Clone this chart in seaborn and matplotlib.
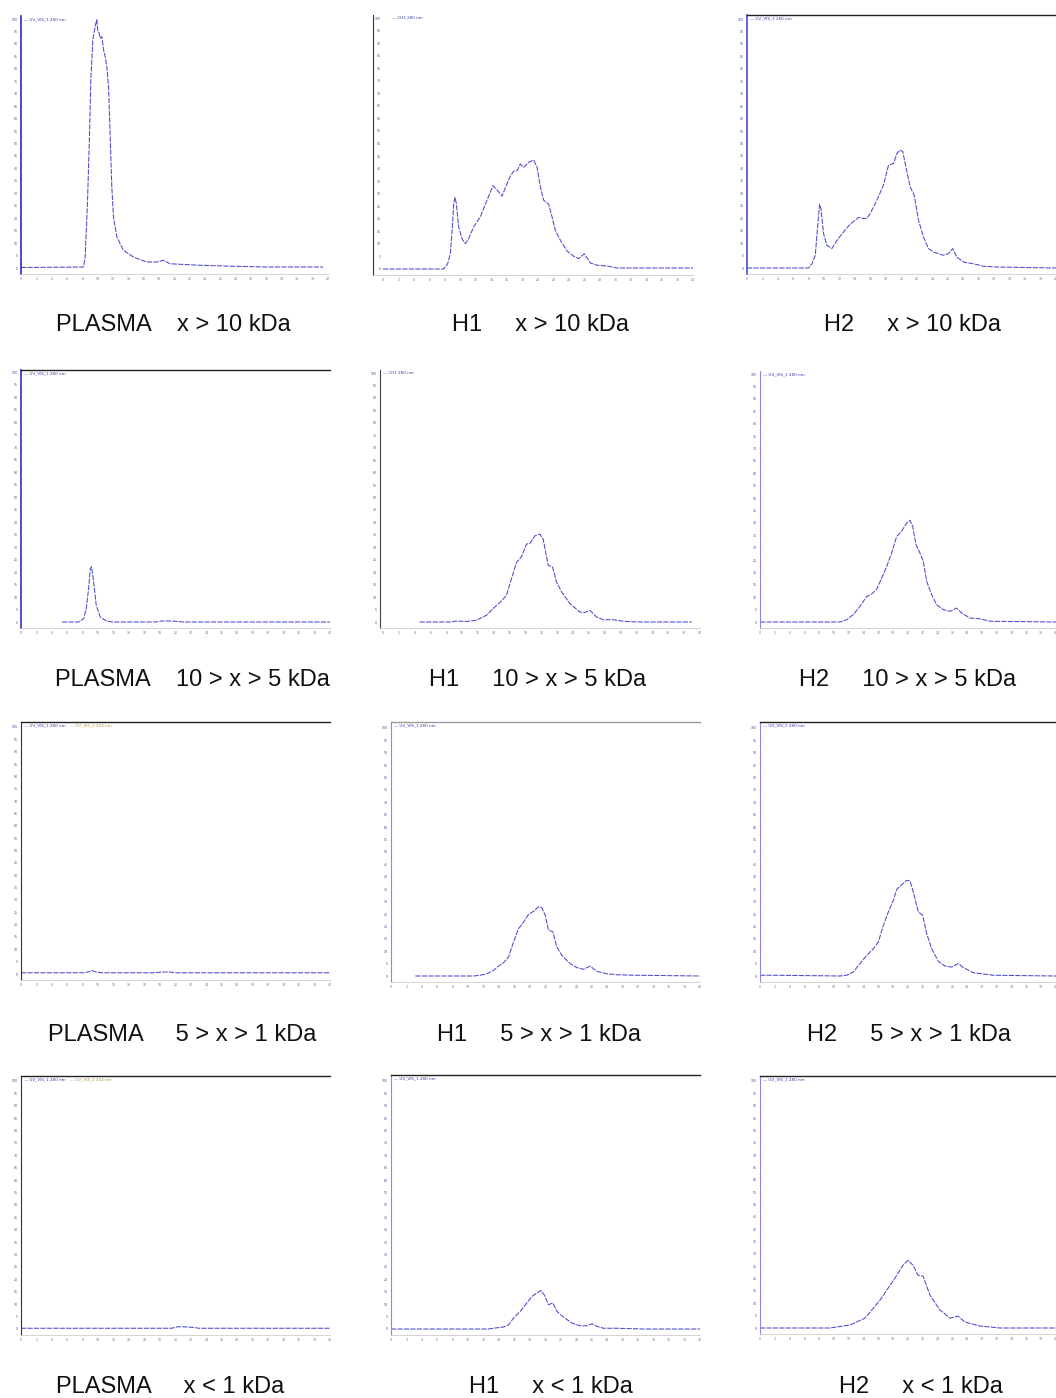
import matplotlib
matplotlib.use("Agg")
import matplotlib.pyplot as plt
import seaborn as sns

# ---- chromatogram traces (retention time, min / detector response, % of full scale) ----
plasma_gt10_t = [0, 8.15, 8.36, 8.67, 8.93, 9.10, 9.36, 9.66, 9.88, 10.01, 10.18, 10.31, 10.53,
                 10.75, 10.96, 11.18, 11.40, 11.61, 11.83, 12.05, 12.48, 13.35, 14.65, 16.38,
                 17.68, 18.55, 19.41, 23.31, 27.65, 31.98, 39.35]
plasma_gt10_y = [0.2, 0.4, 4.4, 27, 54, 75.6, 91.7, 97, 99.7, 95, 94.4, 92.3, 93,
                 87.7, 85, 81, 72.9, 54, 32.6, 20.5, 12.5, 7.1, 4.4, 2.4,
                 2.4, 3.1, 1.7, 1.1, 0.7, 0.4, 0.4]

h1_gt10_t = [0, 7.83, 8.34, 8.69, 8.95, 9.12, 9.29, 9.46, 9.76, 10.19, 10.62, 11.05, 11.70,
             12.56, 13.42, 14.19, 14.92, 15.35, 15.78, 16.43, 16.86, 17.29, 17.72, 18.15,
             18.80, 19.44, 19.87, 20.30, 20.73, 21.38, 21.81, 22.24, 22.88, 23.74, 24.60,
             25.25, 25.98, 26.75, 27.61, 28.90, 30.19, 32.77, 40]
h1_gt10_y = [0, 0, 2.1, 6.1, 16.8, 26.1, 28.5, 26.1, 16.8, 12.1, 10.1, 12.1, 16.8,
             20.8, 27.4, 33.2, 30.8, 29.0, 32.4, 37.0, 39.0, 39.1, 41.8, 40.5,
             42.5, 43.4, 40.7, 32.8, 27.4, 25.8, 20.8, 15.4, 11.5, 7.2, 5.1,
             4.1, 6.1, 2.4, 1.5, 1.2, 0.4, 0.4, 0.4]

h2_gt10_t = [0, 7.97, 8.41, 8.84, 9.14, 9.40, 9.57, 9.91, 10.34, 10.99, 11.64, 12.50, 13.36,
             14.44, 15.09, 15.52, 15.95, 16.81, 17.67, 18.32, 18.97, 19.40, 19.83, 20.17,
             20.47, 21.12, 21.64, 22.20, 22.84, 23.49, 24.14, 25.43, 26.08, 26.64, 27.16,
             28.02, 29.31, 30.60, 32.33, 40]
h2_gt10_y = [0, 0, 1.7, 5.1, 16.5, 25.6, 23.9, 13.8, 9.1, 7.8, 11.1, 14.5, 17.6,
             20.3, 19.9, 19.9, 21.9, 27.2, 33.3, 41.3, 42.0, 46.0, 47.4, 46.7,
             42.0, 32.6, 29.3, 19.2, 12.5, 7.8, 6.4, 5.1, 5.8, 7.8, 4.4,
             2.4, 1.7, 0.7, 0.4, 0]

plasma_10_5_t = [5.30, 7.46, 8.10, 8.45, 8.75, 8.97, 9.14, 9.40, 9.74, 10.26, 11.12, 11.98,
                 17.5, 18.2, 19.5, 21.0, 26.0, 40]
plasma_10_5_y = [0, 0, 1.3, 5.3, 13.4, 21.4, 22.1, 16.0, 6.7, 2.0, 0.3, 0,
                 0, 0.4, 0.4, 0, 0, 0]

h1_10_5_t = [4.63, 8.63, 9.26, 10.53, 11.79, 13.05, 13.89, 14.74, 15.58, 16.21, 16.84, 17.47,
             18.11, 18.53, 19.16, 19.79, 20.21, 20.84, 21.39, 21.89, 22.53, 23.58, 24.84,
             25.47, 26.11, 26.95, 27.79, 29.05, 30.32, 32.0, 38.95]
h1_10_5_y = [0, 0, 0.4, 0.2, 0.7, 2.7, 5.4, 7.8, 10.7, 17.4, 23.9, 26.2,
             31.3, 31.5, 34.6, 35.3, 33.3, 22.8, 22.1, 16.1, 12.1, 7.4, 4.0,
             3.8, 4.7, 2.0, 0.9, 0.9, 0.3, 0, 0]

h2_10_5_t = [0, 10.81, 11.71, 12.61, 13.51, 14.41, 15.09, 15.77, 16.44, 17.12, 17.79, 18.47,
             19.14, 19.82, 20.27, 20.63, 21.08, 21.62, 22.07, 22.52, 23.20, 23.87, 24.77,
             25.68, 26.58, 27.25, 28.38, 29.73, 31.08, 40]
h2_10_5_y = [0, 0, 0.9, 3.0, 6.3, 10.3, 11.3, 13.2, 17.7, 22.4, 27.8, 34.5,
             36.6, 39.9, 41.0, 38.6, 31.2, 27.8, 24.5, 16.4, 11.0, 7.0, 5.0,
             4.3, 5.6, 3.6, 1.6, 1.3, 0.3, 0]

plasma_5_1_t = [0, 8.0, 8.8, 9.2, 9.6, 10.4, 17.0, 18.5, 19.3, 20.0, 26.0, 40]
plasma_5_1_y = [0.5, 0.5, 0.9, 1.4, 0.9, 0.5, 0.5, 0.8, 0.8, 0.5, 0.5, 0.5]

h1_5_1_t = [3.15, 10.69, 11.55, 12.41, 13.28, 13.92, 14.57, 15.22, 15.86, 16.51, 17.16, 17.80,
            18.45, 19.09, 19.53, 19.96, 20.39, 20.95, 21.47, 22.11, 23.19, 24.05, 24.91,
            25.78, 26.64, 27.93, 29.22, 31.81, 40]
h1_5_1_y = [0, 0, 0.3, 0.9, 2.3, 4.0, 5.4, 7.7, 13.7, 19.1, 21.8, 24.8,
            26.1, 27.9, 27.5, 24.5, 18.5, 17.8, 11.7, 8.4, 5.0, 3.4, 2.7,
            4.0, 1.9, 0.9, 0.5, 0.3, 0]

h2_5_1_t = [0, 2.2, 10.81, 11.71, 12.61, 13.51, 14.41, 15.32, 15.99, 16.67, 17.34, 18.02,
            18.47, 19.14, 19.82, 20.27, 20.72, 21.40, 21.98, 22.52, 23.20, 24.10, 25.00,
            25.90, 26.80, 27.48, 28.83, 29.95, 31.53, 40]
h2_5_1_y = [0.3, 0.3, 0, 0.3, 1.6, 5.0, 8.3, 11.0, 13.7, 20.4, 25.8, 30.5,
            34.9, 36.8, 38.6, 38.3, 33.9, 25.8, 24.5, 17.1, 11.0, 5.9, 4.0,
            3.6, 5.0, 3.4, 1.3, 0.9, 0.3, 0]

plasma_lt1_t = [0, 19.5, 20.3, 21.0, 22.5, 23.0, 40]
plasma_lt1_y = [0.3, 0.3, 0.9, 0.9, 0.6, 0.3, 0.3]

h1_lt1_t = [0, 12.63, 13.49, 14.57, 15.22, 15.86, 16.72, 17.59, 18.23, 18.88, 19.40, 19.83,
            20.39, 20.95, 21.47, 22.33, 23.41, 24.48, 25.34, 25.99, 26.64, 27.50, 29.22,
            32.67, 40]
h1_lt1_y = [0, 0, 0.4, 0.8, 1.7, 4.4, 7.1, 10.5, 13.1, 14.5, 15.5, 13.8,
            9.8, 10.5, 7.1, 4.8, 2.4, 1.3, 1.3, 2.1, 1.1, 0.3, 0.3,
            0, 0]

h2_lt1_t = [0, 9.46, 12.16, 14.19, 16.22, 18.24, 19.32, 20.0, 20.68, 21.35, 22.03, 22.97,
            24.32, 25.68, 26.76, 27.70, 29.73, 32.43, 40]
h2_lt1_y = [0, 0, 1.2, 4.0, 11.3, 20.2, 25.4, 27.4, 25.4, 21.4, 21.0, 13.3,
            7.3, 4.0, 4.8, 2.4, 0.8, 0, 0]

captions = [
    "PLASMA    x > 10 kDa", "H1     x > 10 kDa", "H2     x > 10 kDa",
    "PLASMA    10 > x > 5 kDa", "H1     10 > x > 5 kDa", "H2     10 > x > 5 kDa",
    "PLASMA     5 > x > 1 kDa", "H1     5 > x > 1 kDa", "H2     5 > x > 1 kDa",
    "PLASMA     x < 1 kDa", "H1     x < 1 kDa", "H2     x < 1 kDa",
]
trace_names = [
    "UV_VIS_1 280 nm", "CH1 280 nm", "UV_VIS_1 280 nm",
    "UV_VIS_1 280 nm", "CH1 280 nm", "UV_VIS_1 280 nm",
    "UV_VIS_1 280 nm", "UV_VIS_1 280 nm", "UV_VIS_1 280 nm",
    "UV_VIS_1 280 nm", "UV_VIS_1 280 nm", "UV_VIS_1 280 nm",
]
second_trace = {6: "UV_VIS_2 254 nm", 9: "UV_VIS_2 254 nm"}

traces = [
    (plasma_gt10_t, plasma_gt10_y), (h1_gt10_t, h1_gt10_y), (h2_gt10_t, h2_gt10_y),
    (plasma_10_5_t, plasma_10_5_y), (h1_10_5_t, h1_10_5_y), (h2_10_5_t, h2_10_5_y),
    (plasma_5_1_t, plasma_5_1_y), (h1_5_1_t, h1_5_1_y), (h2_5_1_t, h2_5_1_y),
    (plasma_lt1_t, plasma_lt1_y), (h1_lt1_t, h1_lt1_y), (h2_lt1_t, h2_lt1_y),
]

# panel geometry in pixels: spine x, data x0, data x1, top of scale, baseline, top border (or None)
W, H = 1056, 1398
panels = [
    (21, 21, 328, 19, 268, None), (373, 383, 693, 18, 269, None), (747, 747, 1056, 19, 268, 15),
    (21, 21, 330, 372, 622, 370), (380, 383, 700, 373, 622, None), (760, 760, 1056, 374, 622, None),
    (21, 21, 330, 727, 974, 722), (391, 391, 700, 728, 976, 722), (760, 760, 1056, 728, 976, 722),
    (21, 21, 330, 1081, 1329, 1076), (391, 391, 700, 1081, 1329, 1075), (760, 760, 1056, 1081, 1328, 1076),
]
spine_colors = ["#2b2bc0", "#333333", "#4a4ad0", "#3030c0", "#444444", "#8888dd",
                "#333333", "#8a8ae0", "#8a8ae0", "#333333", "#8a8ae0", "#8a8ae0"]
border_colors = {2: "#222222", 3: "#222222", 6: "#222222", 7: "#999999", 8: "#222222",
                 9: "#222222", 10: "#222222", 11: "#222222"}
caption_pos = [(173, 325), (541, 325), (913, 325),
               (192, 680), (538, 680), (908, 680),
               (182, 1035), (539, 1035), (909, 1035),
               (170, 1387), (551, 1387), (921, 1387)]

sns.set_theme(style="white")
plt.rcParams["font.family"] = ["Liberation Sans", "DejaVu Sans"]

fig = plt.figure(figsize=(W / 100, H / 100), dpi=100)
fig.patch.set_facecolor("white")

line_color = "#4a4acc"
yticks = list(range(0, 101, 5))
xticks = list(range(0, 41, 2))

for i, ((t, y), (xs, x0, x1, ytop, ybase, border)) in enumerate(zip(traces, panels)):
    top = border if border is not None else ytop - 3
    bottom = ybase + 6
    ppu_y = (ybase - ytop) / 100.0
    ppu_x = (x1 - x0) / 40.0
    ax = fig.add_axes([xs / W, 1 - bottom / H, (x1 - xs) / W, (bottom - top) / H])
    ax.set_facecolor("white")
    sns.lineplot(x=t, y=y, ax=ax, color=line_color, linewidth=0.75, sort=False,
                 linestyle=(0, (5, 1.2)))
    ax.set_xlim(-(x0 - xs) / ppu_x, 40)
    ax.set_ylim(-6 / ppu_y, 100 + (ytop - top) / ppu_y)

    ax.set_yticks(yticks)
    ax.set_yticklabels([str(v) for v in yticks], fontsize=2.6, color="#5555aa")
    ax.set_xticks(xticks)
    ax.set_xticklabels([str(v) for v in xticks], fontsize=2.6, color="#666666")
    inside = (i == 1)
    ax.tick_params(axis="y", length=1.5, width=0.4, pad=(-7 if inside else 1),
                   direction="out", colors="#5555aa")
    ax.tick_params(axis="x", length=1.5, width=0.4, pad=1, colors="#777777")
    ax.set_xlabel("")
    ax.set_ylabel("")

    ax.spines["right"].set_visible(False)
    ax.spines["left"].set_color(spine_colors[i])
    ax.spines["left"].set_linewidth(1.2 if i in (0, 2, 3) else 0.8)
    ax.spines["bottom"].set_color("#cccccc")
    ax.spines["bottom"].set_linewidth(0.6)
    if i in border_colors:
        ax.spines["top"].set_color(border_colors[i])
        ax.spines["top"].set_linewidth(1.0)
    else:
        ax.spines["top"].set_visible(False)

    # trace name(s) at the top-left of each chromatogram
    lx = 0.06 if inside else 0.01
    ax.text(lx, 0.995, "\u2014 " + trace_names[i], transform=ax.transAxes,
            fontsize=3.0, color="#3a3ab0", va="top", ha="left",
            family=["DejaVu Sans"])
    if i in second_trace:
        ax.text(0.16, 0.995, "\u2014 " + second_trace[i], transform=ax.transAxes,
                fontsize=3.0, color="#b09a3a", va="top", ha="left",
                family=["DejaVu Sans"])

for (cx, cy), text in zip(caption_pos, captions):
    fig.text(cx / W, 1 - cy / H, text, ha="center", va="center", fontsize=17, color="#111111")

fig.savefig("out.png", dpi=100, facecolor="white")
